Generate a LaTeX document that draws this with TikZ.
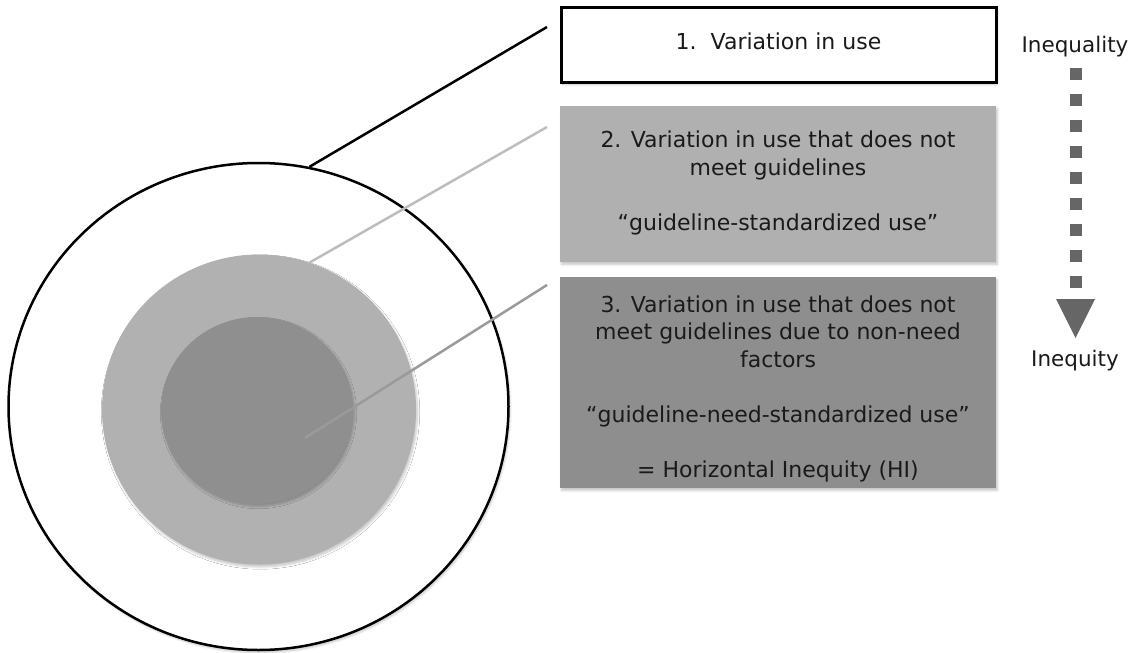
\documentclass[tikz,border=0pt]{standalone}
\usepackage{fontspec}
\setmainfont{DejaVu Sans}
\usetikzlibrary{shapes.geometric,shadows.blur}
\definecolor{boxtwo}{HTML}{B0B0B0}
\definecolor{boxthree}{HTML}{8E8E8E}
\definecolor{ringmid}{HTML}{B1B1B1}
\definecolor{ringin}{HTML}{8F8F8F}
\definecolor{linetwo}{HTML}{BDBDBD}
\definecolor{linethree}{HTML}{9A9A9A}
\definecolor{arrowgray}{HTML}{666666}
\definecolor{txt}{HTML}{1A1A1A}
\tikzset{
  softshadow/.style={blur shadow={shadow xshift=1.5pt,shadow yshift=-2.5pt,shadow opacity=22,shadow blur steps=6}},
  infobox/.style={rectangle,minimum width=436pt,inner sep=0pt,align=center,text=txt,
     font=\fontsize{22pt}{27.5pt}\selectfont,softshadow},
  ringnode/.style={ellipse,inner sep=0pt},
  sidelabel/.style={text=txt,font=\fontsize{21.5pt}{26pt}\selectfont,inner sep=0pt}
}
\begin{document}
\begin{tikzpicture}[x=1pt,y=-1pt]
\useasboundingbox (0,0) rectangle (1144,653);
% circles
\node[ringnode,draw=black,line width=2.5pt,fill=white,minimum width=500pt,minimum height=487pt,softshadow] (outer) at (258.5,406.5) {};
\node[ringnode,fill=ringmid,minimum width=314pt,minimum height=310pt,softshadow] (mid) at (259,409.5) {};
\node[ringnode,fill=ringin,minimum width=192pt,minimum height=187pt,softshadow] (inner) at (257,410.5) {};
% boxes
\node[infobox,draw=black,line width=3pt,fill=white,minimum width=435pt,minimum height=75pt] (b1) at (778.5,44.5) {1.\ \ Variation in use\rule[-6pt]{0pt}{0pt}};
\node[infobox,fill=boxtwo,minimum height=156pt] (b2) at (778,184) {2. Variation in use that does not\\meet guidelines\\[27.5pt]“guideline-standardized use”\rule[-7pt]{0pt}{0pt}};
\node[infobox,fill=boxthree,minimum height=211pt] (b3) at (778,382.5) {\rule{0pt}{29pt}3. Variation in use that does not\\meet guidelines due to non-need\\factors\\[27.5pt]“guideline-need-standardized use”\\[27.5pt]= Horizontal Inequity (HI)};
% connector ends
\coordinate (e1) at (547,27);
\coordinate (e2) at (547,127);
\coordinate (e3) at (547,285);
\coordinate (s3) at (305,438);
\draw[black,line width=2.5pt] (outer.78.7) -- (e1);
\draw[linetwo,line width=2.5pt] (mid.71.9) -- (e2);
\draw[linethree,line width=2.5pt] (s3) -- (e3);
% side arrow
\node[sidelabel] (top) at (1075,47) {Inequality};
\node[sidelabel] (bot) at (1075,361) {Inequity};
\coordinate (a1) at (1075.5,68);
\coordinate (a2) at (1075.5,289);
\draw[arrowgray,line width=12pt,dash pattern=on 12pt off 14pt] (a1) -- (a2);
\fill[arrowgray] (1056,299) -- (1095,299) -- (1075.5,338) -- cycle;
\end{tikzpicture}
\end{document}
